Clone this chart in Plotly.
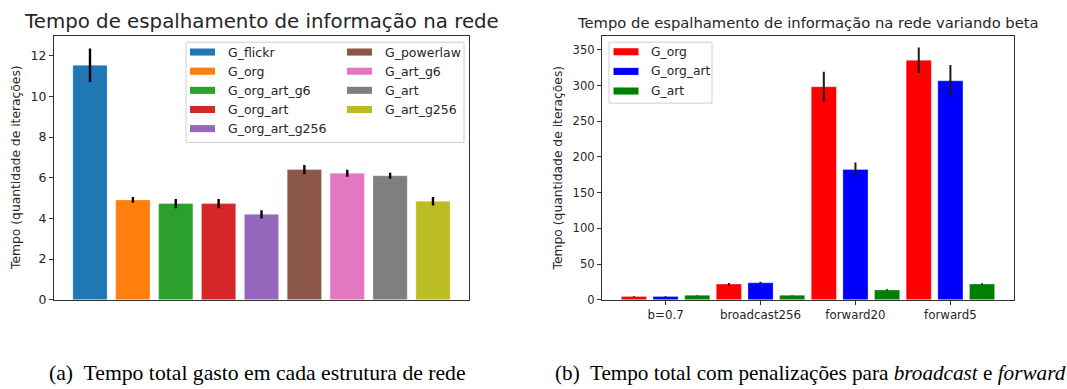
import plotly.graph_objects as go

# ---- data: left panel ----
left_names = ["G_flickr", "G_org", "G_org_art_g6", "G_org_art", "G_org_art_g256",
              "G_powerlaw", "G_art_g6", "G_art", "G_art_g256"]
left_values = [11.53, 4.91, 4.73, 4.73, 4.20, 6.40, 6.22, 6.10, 4.84]
left_errors = [0.82, 0.14, 0.23, 0.23, 0.20, 0.23, 0.17, 0.15, 0.21]
left_colors = ["#1f77b4", "#ff7f0e", "#2ca02c", "#d62728", "#9467bd",
               "#8c564b", "#e377c2", "#7f7f7f", "#bcbd22"]
left_yticks = [0, 2, 4, 6, 8, 10, 12]

# ---- data: right panel ----
right_categories = ["b=0.7", "broadcast256", "forward20", "forward5"]
right_series = ["G_org", "G_org_art", "G_art"]
right_g_org = [4.6, 22.0, 298.2, 335.3]
right_g_org_art = [4.6, 23.8, 182.3, 306.5]
right_g_art = [6.4, 6.4, 13.7, 22.0]
right_g_org_err = [0.5, 1.5, 21.0, 18.0]
right_g_org_art_err = [0.5, 1.5, 10.0, 22.0]
right_g_art_err = [0.3, 0.5, 1.0, 1.0]
right_colors = ["#ff0000", "#0000ff", "#008000"]
right_yticks = [0, 50, 100, 150, 200, 250, 300, 350]

W, H = 1067, 389


def px(x):
    return x / W


def py(y):
    return 1 - y / H


fig = go.Figure()
FONT = "DejaVu Sans"
TXT = "#262626"

for i, (n, v, e, c) in enumerate(zip(left_names, left_values, left_errors, left_colors)):
    fig.add_trace(go.Bar(
        x=[n], y=[v], name=n, showlegend=False,
        marker=dict(color=c, line=dict(width=0.6, color="rgba(255,255,255,0.5)")),
        width=0.8,
        error_y=dict(type="data", array=[e], color="black", thickness=2.4, width=0),
        xaxis="x", yaxis="y",
    ))

right_vals = [right_g_org, right_g_org_art, right_g_art]
right_errs = [right_g_org_err, right_g_org_art_err, right_g_art_err]
bw = 0.265
for k, (n, vals, errs, c) in enumerate(zip(right_series, right_vals, right_errs, right_colors)):
    fig.add_trace(go.Bar(
        x=right_categories, y=vals, name=n, showlegend=False,
        marker=dict(color=c, line=dict(width=0.6, color="rgba(255,255,255,0.5)")),
        width=bw, offset=(k - 1) / 3 - bw / 2,
        error_y=dict(type="data", array=errs, color="#1a1a1a", thickness=2, width=0),
        xaxis="x2", yaxis="y2",
    ))

axis_common = dict(showline=True, linecolor="#333333", linewidth=1, mirror=True,
                   showgrid=False, zeroline=False, ticks="outside", ticklen=4,
                   tickcolor="#333333")

shapes = []
annotations = []


def legend_box(x0, x1, y0, y1):
    shapes.append(dict(type="rect", xref="paper", yref="paper",
                       x0=px(x0), x1=px(x1), y0=py(y1), y1=py(y0),
                       line=dict(color="#d0d0d0", width=1),
                       fillcolor="rgba(255,255,255,0.8)", layer="above"))


def legend_entry(name, color, xpatch, xtext, ycen, fs):
    shapes.append(dict(type="rect", xref="paper", yref="paper",
                       x0=px(xpatch), x1=px(xpatch + 25), y0=py(ycen + 3.6), y1=py(ycen - 3.6),
                       line=dict(width=0), fillcolor=color, layer="above"))
    annotations.append(dict(text=name, x=px(xtext), y=py(ycen), xref="paper", yref="paper",
                            showarrow=False, xanchor="left", yanchor="middle",
                            font=dict(size=fs, color=TXT)))


# left legend (two columns: 5 + 4 entries)
legend_box(186, 464, 43, 145)
for i, (n, c) in enumerate(zip(left_names, left_colors)):
    col, row = (0, i) if i < 5 else (1, i - 5)
    xp = 190 if col == 0 else 347
    xt = 226 if col == 0 else 383
    legend_entry(n, c, xp, xt, 53 + 19.5 * row, 12.5)

# right legend
legend_box(609, 712, 43, 105)
for k, (n, c) in enumerate(zip(right_series, right_colors)):
    legend_entry(n, c, 613.5, 649, 52.7 + 20 * k, 12.3)

annotations += [
    dict(text="Tempo de espalhamento de informação na rede", x=px(261.5), y=py(22),
         xref="paper", yref="paper", showarrow=False, xanchor="center", yanchor="middle",
         font=dict(size=19.8, color=TXT)),
    dict(text="Tempo de espalhamento de informação na rede variando beta", x=px(808), y=py(23),
         xref="paper", yref="paper", showarrow=False, xanchor="center", yanchor="middle",
         font=dict(size=14.75, color=TXT)),
    dict(text="Tempo (quantidade de iterações)", x=px(16), y=py(171), textangle=-90,
         xref="paper", yref="paper", showarrow=False, xanchor="center", yanchor="middle",
         font=dict(size=12.3, color=TXT)),
    dict(text="Tempo (quantidade de iterações)", x=px(557.5), y=py(171), textangle=-90,
         xref="paper", yref="paper", showarrow=False, xanchor="center", yanchor="middle",
         font=dict(size=12.3, color=TXT)),
    dict(text="(a)  Tempo total gasto em cada estrutura de rede", x=px(47), y=py(380),
         xref="paper", yref="paper", showarrow=False, xanchor="left", yanchor="middle",
         font=dict(size=21.7, family="Liberation Serif", color="black")),
    dict(text="(b)  Tempo total com penalizações para <i>broadcast</i> e <i>forward</i>",
         x=px(553), y=py(380),
         xref="paper", yref="paper", showarrow=False, xanchor="left", yanchor="middle",
         font=dict(size=21.2, family="Liberation Serif", color="black")),
]

fig.update_layout(
    width=W, height=H, margin=dict(l=0, r=0, t=0, b=0),
    paper_bgcolor="white", plot_bgcolor="white",
    barmode="overlay", showlegend=False,
    font=dict(family=FONT, color=TXT),
    xaxis=dict(domain=[px(54), px(469)], anchor="y", type="category",
               range=[-0.84, 8.84], showticklabels=False, **{**axis_common, "ticks": ""}),
    yaxis=dict(domain=[py(305.3), py(37)], anchor="x", range=[0, 12.95],
               tickvals=left_yticks, tickfont=dict(size=12.5, color=TXT), **axis_common),
    xaxis2=dict(domain=[px(602), px(1014)], anchor="y2", type="category",
                range=[-0.67, 3.67], tickfont=dict(size=11.8, color=TXT), **axis_common),
    yaxis2=dict(domain=[py(305.3), py(36.7)], anchor="x2", range=[0, 369.2],
                tickvals=right_yticks, tickfont=dict(size=11.6, color=TXT), **axis_common),
    shapes=shapes,
    annotations=annotations,
)

fig.write_html("out.html")
